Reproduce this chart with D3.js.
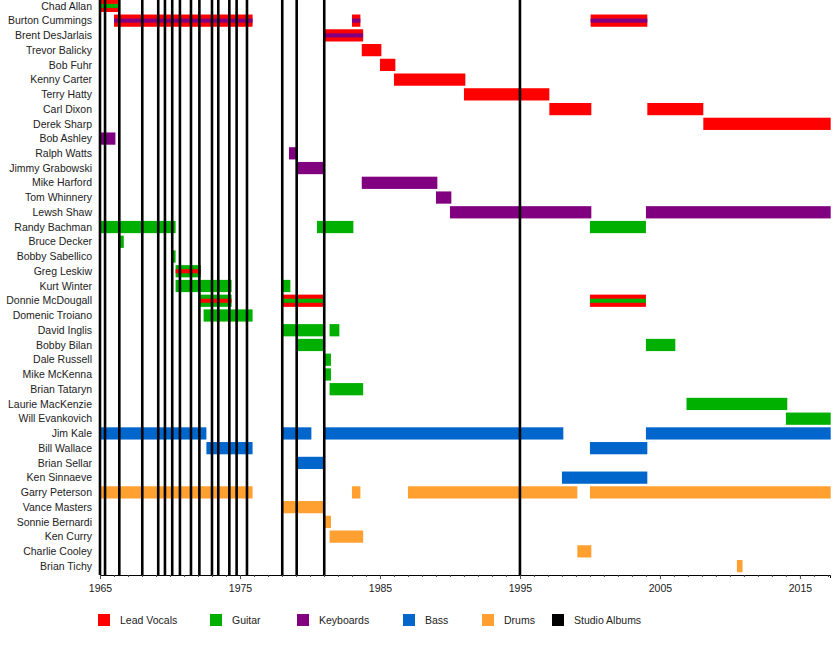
<!DOCTYPE html>
<html><head><meta charset="utf-8">
<script src="https://cdn.jsdelivr.net/npm/d3@7"></script>
<style>body{margin:0;background:#fff}text{font-family:"Liberation Sans",Arial,sans-serif}</style>
</head><body><svg id="c" width="840" height="670"></svg>
<script>
var members = ["Chad Allan","Burton Cummings","Brent DesJarlais","Trevor Balicky","Bob Fuhr","Kenny Carter","Terry Hatty","Carl Dixon","Derek Sharp","Bob Ashley","Ralph Watts","Jimmy Grabowski","Mike Harford","Tom Whinnery","Lewsh Shaw","Randy Bachman","Bruce Decker","Bobby Sabellico","Greg Leskiw","Kurt Winter","Donnie McDougall","Domenic Troiano","David Inglis","Bobby Bilan","Dale Russell","Mike McKenna","Brian Tataryn","Laurie MacKenzie","Will Evankovich","Jim Kale","Bill Wallace","Brian Sellar","Ken Sinnaeve","Garry Peterson","Vance Masters","Sonnie Bernardi","Ken Curry","Charlie Cooley","Brian Tichy"];
var roles = ["Lead Vocals","Guitar","Keyboards","Bass","Drums","Studio Albums"];
var roleColors = ["#ff0000","#00b000","#800080","#0066cc","#ffa030","#000000"];
// [member, start, end, role, stripe role or null]
var spells = [
  ["Chad Allan",1965,1966.3,"Lead Vocals","Guitar"],
  ["Burton Cummings",1966,1975.9,"Lead Vocals","Keyboards"],
  ["Burton Cummings",1983,1983.6,"Lead Vocals","Keyboards"],
  ["Burton Cummings",2000.05,2004.1,"Lead Vocals","Keyboards"],
  ["Brent DesJarlais",1981,1983.8,"Lead Vocals","Keyboards"],
  ["Trevor Balicky",1983.7,1985.1,"Lead Vocals",null],
  ["Bob Fuhr",1985,1986.1,"Lead Vocals",null],
  ["Kenny Carter",1986,1991.1,"Lead Vocals",null],
  ["Terry Hatty",1991,1997.1,"Lead Vocals",null],
  ["Carl Dixon",1997.1,2000.1,"Lead Vocals",null],
  ["Carl Dixon",2004.1,2008.1,"Lead Vocals",null],
  ["Derek Sharp",2008.1,2017.2,"Lead Vocals",null],
  ["Bob Ashley",1965,1966.1,"Keyboards",null],
  ["Ralph Watts",1978.5,1979,"Keyboards",null],
  ["Jimmy Grabowski",1979,1981,"Keyboards",null],
  ["Mike Harford",1983.7,1989.1,"Keyboards",null],
  ["Tom Whinnery",1989,1990.1,"Keyboards",null],
  ["Lewsh Shaw",1990,2000.1,"Keyboards",null],
  ["Lewsh Shaw",2004,2017.2,"Keyboards",null],
  ["Randy Bachman",1965,1970.4,"Guitar",null],
  ["Randy Bachman",1980.5,1983.1,"Guitar",null],
  ["Randy Bachman",2000,2004,"Guitar",null],
  ["Bruce Decker",1966.3,1966.7,"Guitar",null],
  ["Bobby Sabellico",1970.1,1970.4,"Guitar",null],
  ["Greg Leskiw",1970.4,1972.2,"Guitar","Lead Vocals"],
  ["Kurt Winter",1970.4,1974.4,"Guitar",null],
  ["Kurt Winter",1978,1978.6,"Guitar",null],
  ["Donnie McDougall",1972.1,1974.4,"Guitar","Lead Vocals"],
  ["Donnie McDougall",1978,1981,"Lead Vocals","Guitar"],
  ["Donnie McDougall",2000,2004,"Lead Vocals","Guitar"],
  ["Domenic Troiano",1972.4,1975.9,"Guitar",null],
  ["David Inglis",1978,1981,"Guitar",null],
  ["David Inglis",1981.4,1982.1,"Guitar",null],
  ["Bobby Bilan",1979,1981,"Guitar",null],
  ["Bobby Bilan",2004,2006.1,"Guitar",null],
  ["Dale Russell",1981,1981.5,"Guitar",null],
  ["Mike McKenna",1981,1981.5,"Guitar",null],
  ["Brian Tataryn",1981.4,1983.8,"Guitar",null],
  ["Laurie MacKenzie",2006.9,2014.1,"Guitar",null],
  ["Will Evankovich",2014,2017.2,"Guitar",null],
  ["Jim Kale",1965,1972.6,"Bass",null],
  ["Jim Kale",1978,1980.1,"Bass",null],
  ["Jim Kale",1981,1998.1,"Bass",null],
  ["Jim Kale",2004,2017.2,"Bass",null],
  ["Bill Wallace",1972.6,1975.9,"Bass",null],
  ["Bill Wallace",2000,2004.1,"Bass",null],
  ["Brian Sellar",1979,1981,"Bass",null],
  ["Ken Sinnaeve",1998,2004.1,"Bass",null],
  ["Garry Peterson",1965,1975.9,"Drums",null],
  ["Garry Peterson",1983,1983.6,"Drums",null],
  ["Garry Peterson",1987,1999.1,"Drums",null],
  ["Garry Peterson",2000,2017.2,"Drums",null],
  ["Vance Masters",1978,1981,"Drums",null],
  ["Sonnie Bernardi",1981,1981.5,"Drums",null],
  ["Ken Curry",1981.4,1983.8,"Drums",null],
  ["Charlie Cooley",1999.1,2000.1,"Drums",null],
  ["Brian Tichy",2010.5,2010.9,"Drums",null]
];
var albums = [1965,1965.36,1966.38,1968.02,1969.16,1969.64,1970.16,1970.71,1971.5,1972.1,1973.0,1973.45,1974.24,1974.76,1975.5,1978.02,1979.05,1981.02,1995.0];
var tickYears = [1965,1975,1985,1995,2005,2015];

var svg = d3.select("#c");
var color = d3.scaleOrdinal().domain(roles).range(roleColors);
var x = d3.scaleLinear().domain([1965,2017.15]).range([100,830]);
var y = d3.scaleBand().domain(members).range([-1.4,573.4]).paddingInner(0.17).paddingOuter(0.08);

svg.selectAll("text.name").data(members).enter().append("text")
  .attr("x",92).attr("y",function(d){return y(d)+y.bandwidth()/2;})
  .attr("dy","0.35em").attr("text-anchor","end").attr("font-size",10.5).attr("fill","#222").text(function(d){return d;});

svg.selectAll("rect.bar").data(spells).enter().append("rect")
  .attr("x",function(d){return x(d[1]);}).attr("width",function(d){return x(d[2])-x(d[1]);})
  .attr("y",function(d){return y(d[0]);}).attr("height",y.bandwidth())
  .attr("fill",function(d){return color(d[3]);});
svg.selectAll("rect.stripe").data(spells.filter(function(d){return d[4];})).enter().append("rect")
  .attr("x",function(d){return x(d[1]);}).attr("width",function(d){return x(d[2])-x(d[1]);})
  .attr("y",function(d){return y(d[0])+y.bandwidth()/3;}).attr("height",y.bandwidth()/3)
  .attr("fill",function(d){return color(d[4]);});

svg.selectAll("line.album").data(albums).enter().append("line")
  .attr("x1",function(d){return x(d);}).attr("x2",function(d){return x(d);})
  .attr("y1",0).attr("y2",575).attr("stroke","#000").attr("stroke-width",2.6);

var axis = d3.axisBottom(x).tickValues(d3.range(1965,2018)).tickSize(3)
  .tickFormat(function(d){return tickYears.indexOf(d)>=0 ? d : "";});
var g = svg.append("g").attr("transform","translate(0,575)").call(axis);
g.select(".domain").attr("stroke","#000");
g.selectAll(".tick line").attr("stroke","#444").attr("y2",function(d){return tickYears.indexOf(d)>=0?4:2;});
g.selectAll(".tick text").attr("font-size",10.5).attr("font-family","Liberation Sans, Arial").attr("fill","#222").attr("dy","1.0em");

var legX = [98,210,297,403,482,552];
var leg = svg.selectAll("g.leg").data(roles).enter().append("g")
  .attr("transform",function(d,i){return "translate("+legX[i]+",614)";});
leg.append("rect").attr("width",12).attr("height",12).attr("fill",function(d){return color(d);});
leg.append("text").attr("x",22).attr("y",6).attr("dy","0.35em").attr("font-size",10.5).attr("fill","#222").text(function(d){return d;});
</script></body></html>
